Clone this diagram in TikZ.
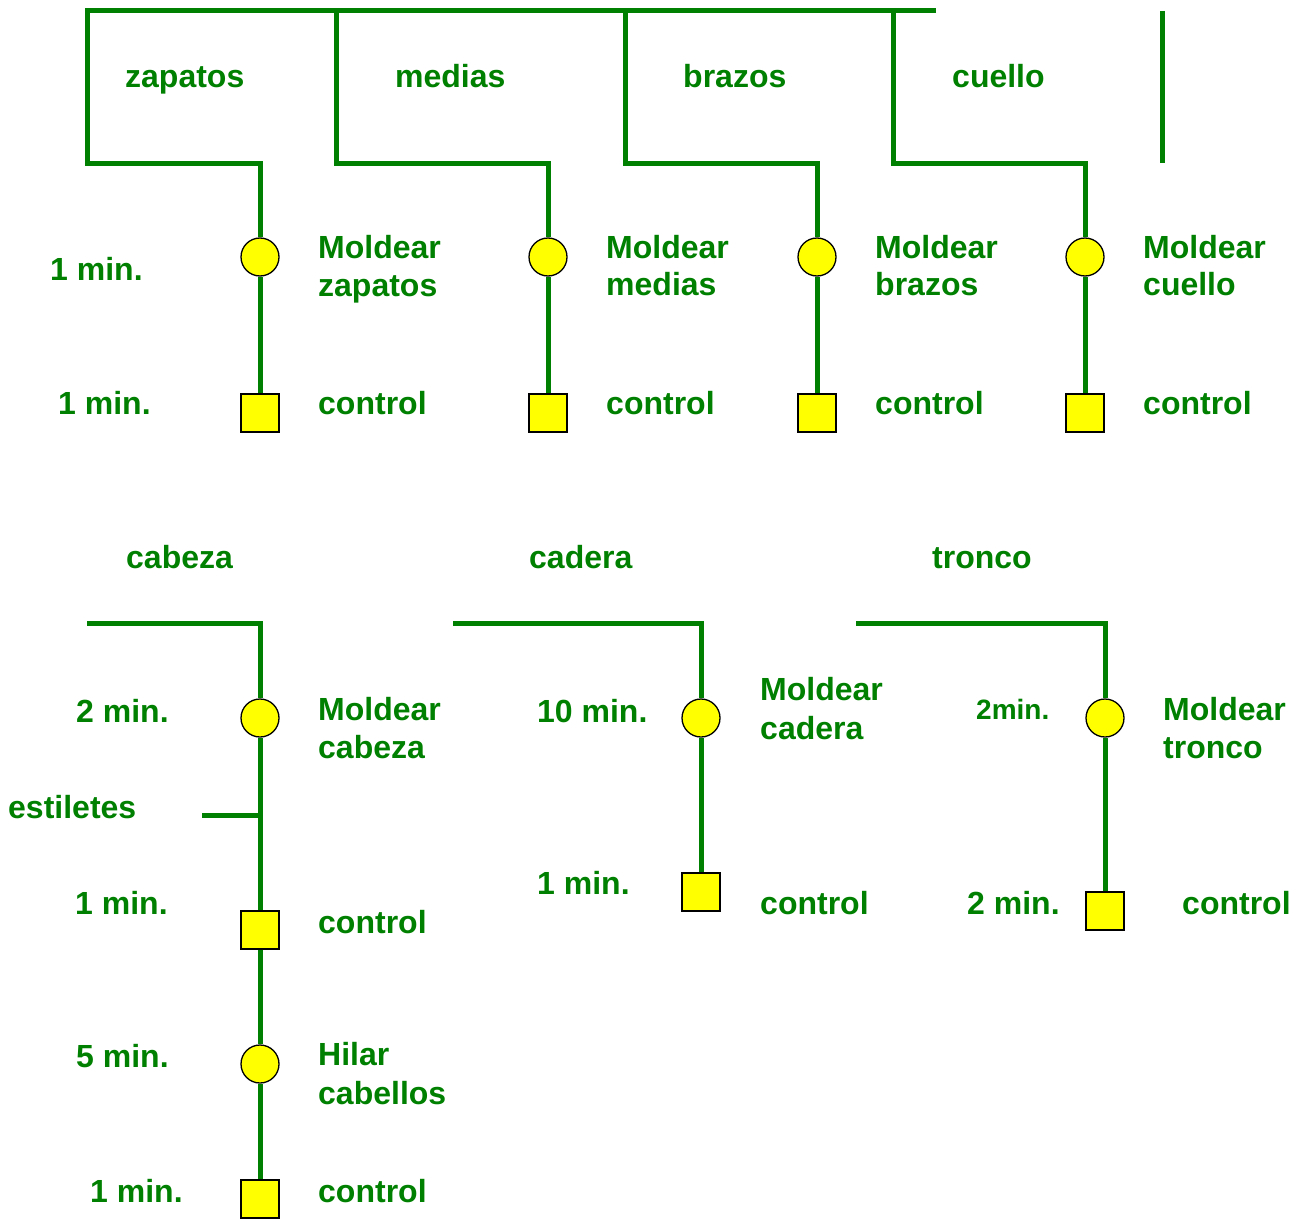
\documentclass[tikz,border=0pt]{standalone}
\usepackage{fontspec}
\setmainfont{Liberation Sans}
\definecolor{flowgreen}{HTML}{008000}
\definecolor{opyellow}{HTML}{FFFF00}
\begin{document}
\begin{tikzpicture}[x=1pt,y=-1pt,
  flow/.style={draw=flowgreen, line width=5pt, line join=miter},
  opnode/.style={circle, fill=opyellow, draw=black, line width=1.3pt, minimum size=38pt, inner sep=0pt},
  inspnode/.style={rectangle, fill=opyellow, draw=black, line width=1.3pt, minimum size=38pt, inner sep=0pt},
  lbl/.style={text=flowgreen, font=\bfseries\fontsize{32}{38}\selectfont, anchor=base west, inner sep=0pt},
  lblsmall/.style={lbl, font=\bfseries\fontsize{28}{34}\selectfont}]
\useasboundingbox (0,0) rectangle (1311,1220);

% ---- top section nodes
\node[opnode] (o1) at (260,257) {};
\node[opnode] (o2) at (548,257) {};
\node[opnode] (o3) at (817,257) {};
\node[opnode] (o4) at (1085,257) {};
\node[inspnode] (s1) at (260,413) {};
\node[inspnode] (s2) at (548,413) {};
\node[inspnode] (s3) at (817,413) {};
\node[inspnode] (s4) at (1085,413) {};

\coordinate (tl) at (87,11);
\coordinate (tr) at (936,11);
\coordinate (b2) at (336,11);
\coordinate (b3) at (625,11);
\coordinate (b4) at (893,11);
\coordinate (sepTop) at (1162,11);
\coordinate (sepBot) at (1162,163);

\draw[flow] (tr) -- (tl) -- (87,163) -| (o1);
\draw[flow] (b2) -- (336,163) -| (o2);
\draw[flow] (b3) -- (625,163) -| (o3);
\draw[flow] (b4) -- (893,163) -| (o4);
\draw[flow] (sepTop) -- (sepBot);
\draw[flow] (o1) -- (s1);
\draw[flow] (o2) -- (s2);
\draw[flow] (o3) -- (s3);
\draw[flow] (o4) -- (s4);

\node[lbl] (lz) at (125,88) {zapatos};
\node[lbl] (lm) at (395,88) {medias};
\node[lbl] (lb) at (683,88) {brazos};
\node[lbl] (lc) at (952,88) {cuello};

\node[lbl] (t1) at (50,280) {1 min.};
\node[lbl] (t2) at (58,414) {1 min.};

\node[lbl] (m1a) at (318,258) {Moldear};
\node[lbl] (m1b) at (318,296) {zapatos};
\node[lbl] (m2a) at (606,258) {Moldear};
\node[lbl] (m2b) at (606,295) {medias};
\node[lbl] (m3a) at (875,258) {Moldear};
\node[lbl] (m3b) at (875,295) {brazos};
\node[lbl] (m4a) at (1143,258) {Moldear};
\node[lbl] (m4b) at (1143,295) {cuello};

\node[lbl] (c1) at (318,414) {control};
\node[lbl] (c2) at (606,414) {control};
\node[lbl] (c3) at (875,414) {control};
\node[lbl] (c4) at (1143,414) {control};

% ---- bottom section: cabeza
\node[opnode] (ob1) at (260,718) {};
\node[inspnode] (sb1) at (260,930) {};
\node[opnode] (ob2) at (260,1064) {};
\node[inspnode] (sb2) at (260,1199) {};
\coordinate (cabStart) at (87,623);
\coordinate (estEnd) at (202,815);
\coordinate (estJoin) at (260,815);

\draw[flow] (cabStart) -| (ob1);
\draw[flow] (ob1) -- (sb1);
\draw[flow] (sb1) -- (ob2);
\draw[flow] (ob2) -- (sb2);
\draw[flow] (estEnd) -- (estJoin);

\node[lbl] (hcab) at (126,568) {cabeza};
\node[lbl] (tc1) at (76,722) {2 min.};
\node[lbl] (mca) at (318,720) {Moldear};
\node[lbl] (mcb) at (318,758) {cabeza};
\node[lbl] (est) at (8,818) {estiletes};
\node[lbl] (tc2) at (75,914) {1 min.};
\node[lbl] (cc1) at (318,933) {control};
\node[lbl] (tc3) at (76,1067) {5 min.};
\node[lbl] (hia) at (318,1065) {Hilar};
\node[lbl] (hib) at (318,1104) {cabellos};
\node[lbl] (tc4) at (90,1202) {1 min.};
\node[lbl] (cc2) at (318,1202) {control};

% ---- cadera
\node[opnode] (oc) at (701,718) {};
\node[inspnode] (sc) at (701,892) {};
\coordinate (cadStart) at (453,623);
\draw[flow] (cadStart) -| (oc);
\draw[flow] (oc) -- (sc);

\node[lbl] (hcad) at (529,568) {cadera};
\node[lbl] (td1) at (537,722) {10 min.};
\node[lbl] (mda) at (760,700) {Moldear};
\node[lbl] (mdb) at (760,739) {cadera};
\node[lbl] (td2) at (537,894) {1 min.};
\node[lbl] (cd) at (760,914) {control};

% ---- tronco
\node[opnode] (ot) at (1105,718) {};
\node[inspnode] (st) at (1105,911) {};
\coordinate (troStart) at (856,623);
\draw[flow] (troStart) -| (ot);
\draw[flow] (ot) -- (st);

\node[lbl] (htr) at (932,568) {tronco};
\node[lblsmall] (tt1) at (976,719) {2min.};
\node[lbl] (mta) at (1163,720) {Moldear};
\node[lbl] (mtb) at (1163,758) {tronco};
\node[lbl] (tt2) at (967,914) {2 min.};
\node[lbl] (ct) at (1182,914) {control};
\end{tikzpicture}
\end{document}
